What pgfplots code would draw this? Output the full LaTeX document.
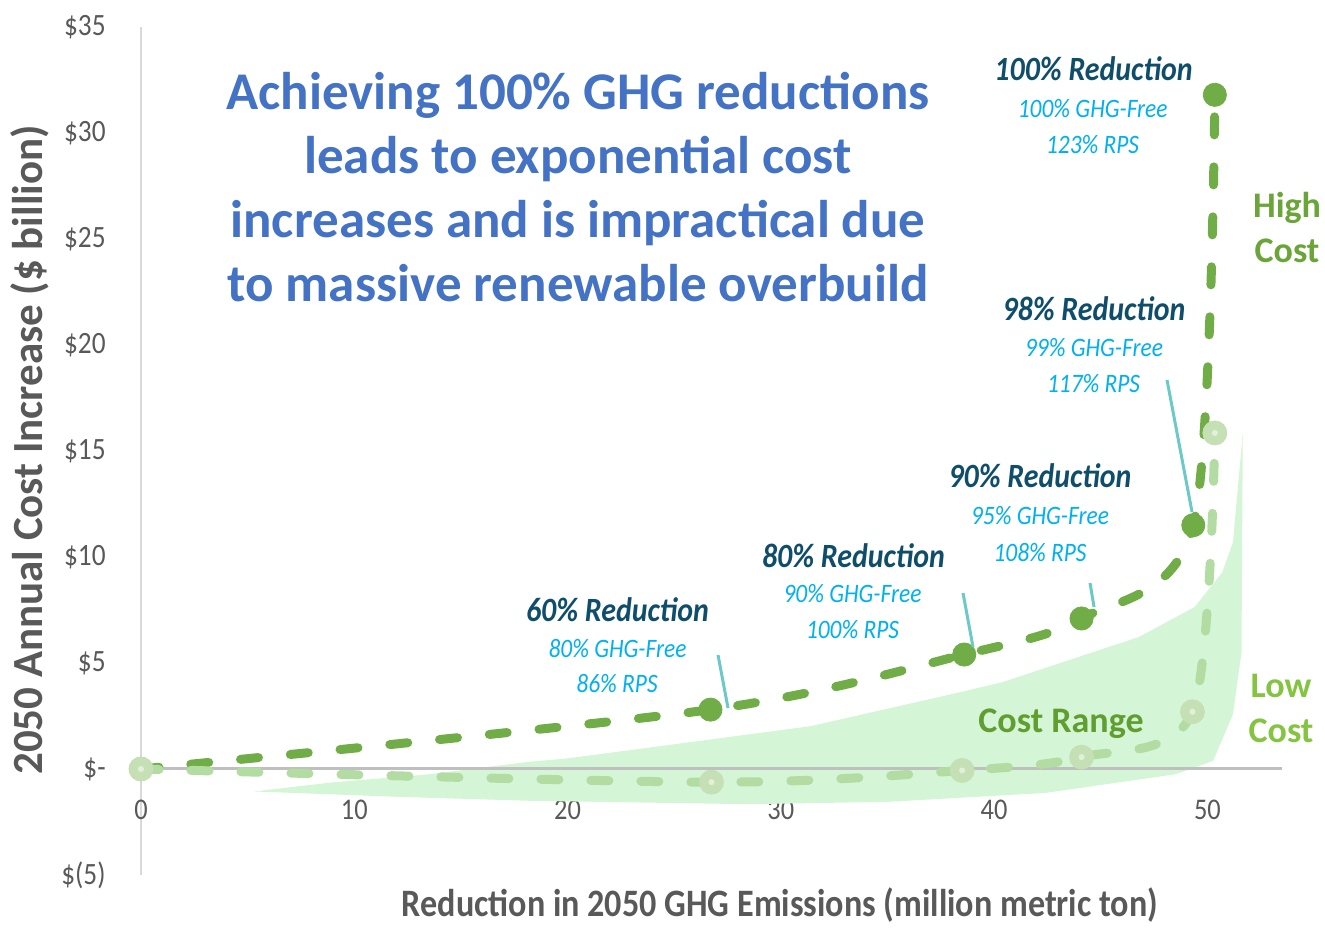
\documentclass[border=0pt]{standalone}
\usepackage{fontspec}
\setmainfont{Carlito}
\newfontfamily\cond[FakeStretch=0.88]{Carlito}
\usepackage{pgfplots}
\pgfplotsset{compat=1.18}
\definecolor{hi}{HTML}{70AD47}
\definecolor{lowline}{HTML}{B3DCA3}
\definecolor{lowmark}{HTML}{C5E0B4}
\definecolor{lowdot}{HTML}{E2F0DA}
\definecolor{rangefill}{HTML}{D5F5D7}
\definecolor{axisgray}{HTML}{BFBFBF}
\definecolor{yaxisgray}{HTML}{D9D9D9}
\definecolor{tickgray}{HTML}{595959}
\definecolor{darkteal}{HTML}{0F4E6B}
\definecolor{lightblue}{HTML}{00B0F0}
\definecolor{leader}{HTML}{6DC8C8}
\definecolor{titleblue}{HTML}{4472C4}
\definecolor{highcost}{HTML}{6BA539}
\definecolor{lowcost}{HTML}{84C441}
\definecolor{costrange}{HTML}{5F9E2F}
\begin{document}
\begin{tikzpicture}
\useasboundingbox (-70.5pt,-27pt) rectangle (592pt,437.5pt);
\begin{axis}[
  at={(0pt,0pt)}, anchor=south west,
  scale only axis, width=570.5pt, height=424pt,
  xmin=0, xmax=53.5, ymin=-5, ymax=35,
  axis x line=middle, axis y line=left,
  x axis line style={draw=none},
  y axis line style={-, draw=yaxisgray, line width=0.9pt},
  xtick={0,10,20,30,40,50}, xticklabels={0,10,20,30,40,50},
  ytick={-5,0,5,10,15,20,25,30,35},
  yticklabels={\$(5),\$-,\$5,\$10,\$15,\$20,\$25,\$30,\$35},
  major tick length=0pt,
  hide obscured x ticks=false, hide obscured y ticks=false,
  xticklabel style={font=\cond\fontsize{15}{15}\selectfont, text=tickgray, anchor=north, inner sep=0pt, yshift=-15.5pt},
  yticklabel style={font=\cond\fontsize{15.5}{15.5}\selectfont, text=tickgray, anchor=east, inner sep=0pt, xshift=-17.5pt},
  clip=false,
]
% cost range area
\addplot[draw=none, fill=rangefill] coordinates {
 (5.3,-1.06) (8.9,-0.64) (13.5,-0.25) (18.2,0.34) (20.0,0.5) (31.4,2.02) (38.4,3.62)
 (40.4,4.1) (46.8,6.23) (49.4,7.64) (50.7,9.28) (51.2,10.7) (51.66,15.84)
 (51.6,5.5) (51.2,2.58) (50.27,0.38) (48.5,-0.25) (42.4,-1.13) (35.0,-1.55)
 (28.5,-1.66) (18.2,-1.5) (12.0,-1.31)
} -- cycle;
% zero line
\addplot[draw=axisgray, line width=1.5pt] coordinates {(0,0) (53.5,0)};
% high cost
\addplot[hi, line width=4.5pt, smooth, line cap=round, dash pattern=on 9pt off 16pt] coordinates {
 (0,0) (26.7,2.8) (38.6,5.4) (44.1,7.1) (49.34,11.5) (50.35,31.8)
};
\addplot[only marks, mark=*, mark size=5.8pt, color=hi, mark options={solid, fill=hi, draw=hi}] coordinates {
 (0,0) (26.7,2.8) (38.6,5.4) (44.1,7.1) (49.34,11.5) (50.35,31.8)
};
% low cost
\addplot[lowline, line width=4.5pt, smooth, line cap=round, dash pattern=on 9pt off 16pt] coordinates {
 (0,0) (26.75,-0.62) (38.5,-0.07) (44.1,0.56) (49.3,2.7) (50.35,15.85)
};
\addplot[only marks, mark=*, mark size=6pt, color=lowmark, mark options={solid, fill=lowmark, draw=lowmark}] coordinates {
 (0,0) (26.75,-0.62) (38.5,-0.07) (44.1,0.56) (49.3,2.7) (50.35,15.85)
};
\addplot[only marks, mark=*, mark size=1.3pt, color=lowdot, mark options={solid, fill=lowdot, draw=lowdot}] coordinates {
 (0,0) (26.75,-0.62) (38.5,-0.07) (44.1,0.56) (49.3,2.7) (50.35,15.85)
};
\end{axis}
% leader lines
\draw[leader, line width=1.5pt] (513pt,247.5pt) -- (525.5pt,181.5pt);
\draw[leader, line width=1.5pt] (474.5pt,146pt) -- (476.5pt,134pt);
\draw[leader, line width=1.5pt] (411pt,141pt) -- (416pt,114pt);
\draw[leader, line width=1.5pt] (288.5pt,110pt) -- (293.5pt,83.5pt);
% title
\begin{scope}[every node/.style={anchor=base, text=titleblue, font=\bfseries\fontsize{26.5}{26.5}\selectfont, inner sep=0pt}]
\node at (218.5pt,382.5pt) {Achieving 100\% GHG reductions};
\node at (218.5pt,350.5pt) {leads to exponential cost};
\node at (218.5pt,318.5pt) {increases and is impractical due};
\node at (218.5pt,286.5pt) {to massive renewable overbuild};
\end{scope}
% annotations
\tikzset{mainlab/.style={anchor=base, inner sep=0pt, text=darkteal, font=\cond\bfseries\itshape\fontsize{17}{17}\selectfont},
 sublab/.style={anchor=base, inner sep=0pt, text=lightblue, font=\cond\itshape\fontsize{13.3}{13.3}\selectfont}}
\node[mainlab] at (476.25pt,397pt) {100\% Reduction};
\node[sublab] at (475.85pt,378.5pt) {100\% GHG-Free};
\node[sublab] at (475.75pt,360.5pt) {123\% RPS};
\node[mainlab] at (476.5pt,277pt) {98\% Reduction};
\node[sublab] at (476.5pt,259pt) {99\% GHG-Free};
\node[sublab] at (476.25pt,241pt) {117\% RPS};
\node[mainlab] at (449.5pt,193.5pt) {90\% Reduction};
\node[sublab] at (449.5pt,175pt) {95\% GHG-Free};
\node[sublab] at (449.5pt,156.5pt) {108\% RPS};
\node[mainlab] at (356.25pt,153.5pt) {80\% Reduction};
\node[sublab] at (355.75pt,136pt) {90\% GHG-Free};
\node[sublab] at (355.75pt,118pt) {100\% RPS};
\node[mainlab] at (238.25pt,126.65pt) {60\% Reduction};
\node[sublab] at (238.25pt,108.5pt) {80\% GHG-Free};
\node[sublab] at (238pt,91pt) {86\% RPS};
% side labels
\begin{scope}[every node/.style={anchor=base, inner sep=0pt, font=\bfseries\fontsize{18}{18}\selectfont}]
\node[text=highcost] at (573pt,328.5pt) {High};
\node[text=highcost] at (573pt,306pt) {Cost};
\node[text=lowcost] at (570pt,88.5pt) {Low};
\node[text=lowcost] at (570pt,66pt) {Cost};
\node[text=costrange] at (460pt,71pt) {Cost Range};
\end{scope}
% axis titles
\node[rotate=90, inner sep=0pt, text=tickgray, font=\bfseries\fontsize{21.5}{21.5}\selectfont] at (-55.5pt,212.5pt) {2050 Annual Cost Increase (\$ billion)};
\node[anchor=base, inner sep=0pt, text=tickgray, font=\cond\bfseries\fontsize{19.4}{19.4}\selectfont] at (319.5pt,-20.85pt) {Reduction in 2050 GHG Emissions (million metric ton)};
\end{tikzpicture}
\end{document}
